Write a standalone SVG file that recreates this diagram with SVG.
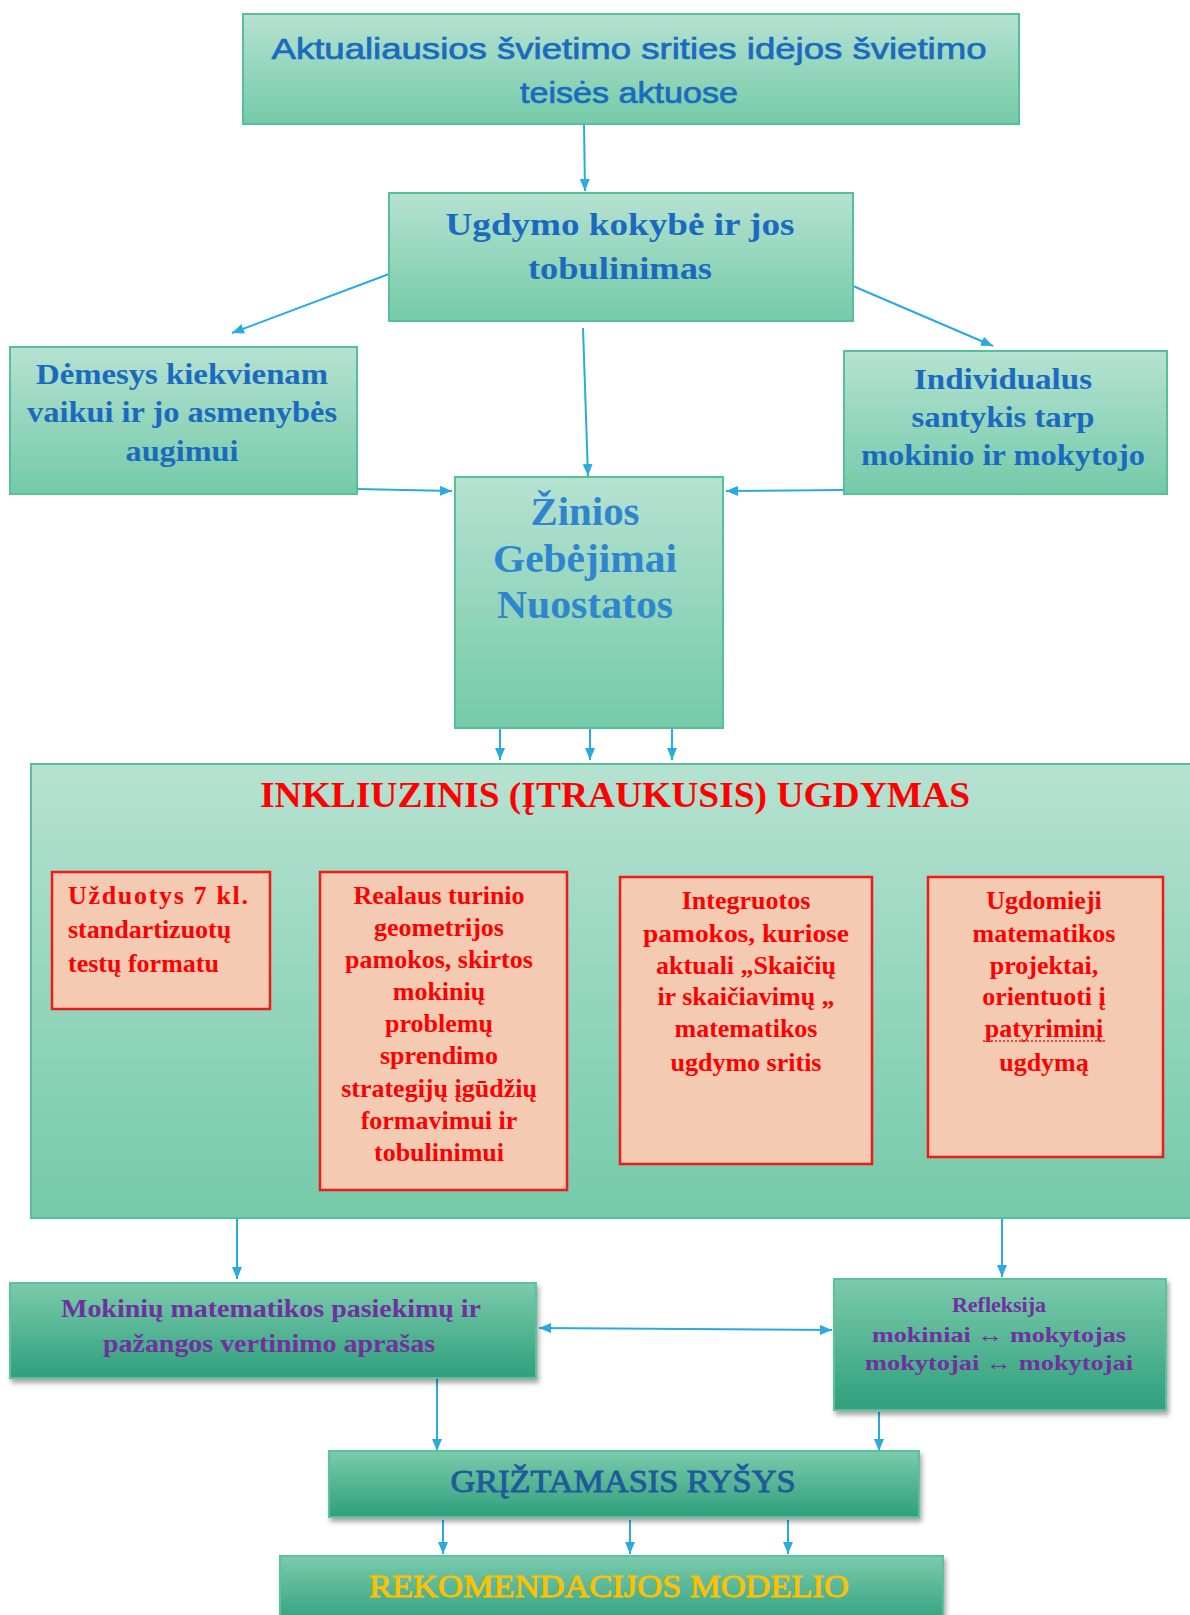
<svg xmlns="http://www.w3.org/2000/svg" width="1190" height="1615" viewBox="0 0 1190 1615">
  <defs>
    <linearGradient id="gLight" x1="0" y1="0" x2="0" y2="1">
      <stop offset="0" stop-color="#B6E2D1"/>
      <stop offset="1" stop-color="#74CAA9"/>
    </linearGradient>
    <linearGradient id="gDark" x1="0" y1="0" x2="0" y2="1">
      <stop offset="0" stop-color="#7BCBAC"/>
      <stop offset="1" stop-color="#2F9F7C"/>
    </linearGradient>
    <filter id="shadow" x="-5%" y="-10%" width="112%" height="130%">
      <feDropShadow dx="2" dy="4" stdDeviation="2.5" flood-color="#000" flood-opacity="0.35"/>
    </filter>
    <marker id="ah" viewBox="0 0 12 10" refX="12" refY="5" markerWidth="12" markerHeight="10" markerUnits="userSpaceOnUse" orient="auto-start-reverse">
      <path d="M0,0 L12,5 L0,10 z" fill="#29ABE2"/>
    </marker>
    <style>
      .light { fill: url(#gLight); stroke: #55C199; stroke-width: 2; }
      .dark { fill: url(#gDark); stroke: #5CC29E; stroke-width: 2; filter: url(#shadow); }
      .red { fill: #F4CBB2; stroke: #F01A1A; stroke-width: 2.5; }
      .conn { stroke: #29ABE2; stroke-width: 2; fill: none; marker-end: url(#ah); }
      .sans { font-family: "Liberation Sans", Arial, sans-serif; stroke: #1A6BC0; stroke-width: 0.7; }
      .serif { font-family: "Liberation Serif", "Times New Roman", serif; font-weight: bold; }
      .serifn { font-family: "Liberation Serif", "Times New Roman", serif; stroke-width: 0.9; }
      .blue { fill: #1A6BC0; }
      .blue2 { fill: #2D86CE; }
      .redt { fill: #FF0000; }
      .purple { fill: #7030A0; }
      .mid { text-anchor: middle; }
    </style>
  </defs>

  <rect width="1190" height="1615" fill="#FFFFFF"/>

  <!-- connectors -->
  <g id="connectors">
    <path class="conn" d="M584,124 L585,191"/>
    <path class="conn" d="M389,274 L232,333"/>
    <path class="conn" d="M853,286 L993,346"/>
    <path class="conn" d="M583,328 L588,476"/>
    <path class="conn" d="M357,489 L452,491"/>
    <path class="conn" d="M844,490 L726,491"/>
    <path class="conn" d="M500,729 L500,760"/>
    <path class="conn" d="M590,729 L590,760"/>
    <path class="conn" d="M672,729 L672,760"/>
    <path class="conn" d="M237,1218 L237,1279"/>
    <path class="conn" d="M1002,1218 L1002,1277"/>
    <path class="conn" d="M539,1328 L832,1330" marker-start="url(#ah)"/>
    <path class="conn" d="M437,1378 L437,1451"/>
    <path class="conn" d="M879,1412 L879,1451"/>
    <path class="conn" d="M443,1520 L443,1554"/>
    <path class="conn" d="M630,1520 L630,1554"/>
    <path class="conn" d="M788,1520 L788,1554"/>
  </g>

  <g id="node-aktualiausios">
    <rect class="light" x="243" y="14" width="776" height="110"/>
    <text class="sans blue mid" x="629" y="59" font-size="30" textLength="715" lengthAdjust="spacingAndGlyphs">Aktualiausios švietimo srities idėjos švietimo</text>
    <text class="sans blue mid" x="629" y="103" font-size="30" textLength="218" lengthAdjust="spacingAndGlyphs">teisės aktuose</text>
  </g>

  <g id="node-ugdymo-kokybe">
    <rect class="light" x="389" y="193" width="464" height="128"/>
    <text class="serif blue mid" x="620" y="235" font-size="31" textLength="349" lengthAdjust="spacingAndGlyphs">Ugdymo kokybė ir jos</text>
    <text class="serif blue mid" x="620" y="279" font-size="31" textLength="184" lengthAdjust="spacingAndGlyphs">tobulinimas</text>
  </g>

  <g id="node-demesys">
    <rect class="light" x="10" y="347" width="347" height="147"/>
    <text class="serif blue mid" x="182" y="384" font-size="30" textLength="292" lengthAdjust="spacingAndGlyphs">Dėmesys  kiekvienam</text>
    <text class="serif blue mid" x="182" y="422" font-size="30" textLength="310" lengthAdjust="spacingAndGlyphs">vaikui ir jo asmenybės</text>
    <text class="serif blue mid" x="182" y="461" font-size="30" textLength="113" lengthAdjust="spacingAndGlyphs">augimui</text>
  </g>

  <g id="node-individualus">
    <rect class="light" x="844" y="351" width="323" height="143"/>
    <text class="serif blue mid" x="1003" y="389" font-size="30" textLength="178" lengthAdjust="spacingAndGlyphs">Individualus</text>
    <text class="serif blue mid" x="1003" y="427" font-size="30" textLength="183" lengthAdjust="spacingAndGlyphs">santykis tarp</text>
    <text class="serif blue mid" x="1003" y="465" font-size="30" textLength="284" lengthAdjust="spacingAndGlyphs">mokinio ir mokytojo</text>
  </g>

  <g id="node-zinios">
    <rect class="light" x="455" y="477" width="268" height="251"/>
    <text class="serif blue2 mid" x="585" y="525" font-size="41" textLength="109" lengthAdjust="spacingAndGlyphs">Žinios</text>
    <text class="serif blue2 mid" x="585" y="572" font-size="41" textLength="184" lengthAdjust="spacingAndGlyphs">Gebėjimai</text>
    <text class="serif blue2 mid" x="585" y="618" font-size="41" textLength="176" lengthAdjust="spacingAndGlyphs">Nuostatos</text>
  </g>

  <g id="node-inkliuzinis">
    <rect class="light" x="31" y="764" width="1170" height="454"/>
    <text class="serif redt mid" x="615" y="807" font-size="36" textLength="710" lengthAdjust="spacingAndGlyphs">INKLIUZINIS (ĮTRAUKUSIS) UGDYMAS</text>
  </g>

  <g id="node-uzduotys">
    <rect class="red" x="52" y="872" width="218" height="137"/>
    <text class="serif redt" x="68" y="904" font-size="26" textLength="180" lengthAdjust="spacing">Užduotys  7 kl.</text>
    <text class="serif redt" x="68" y="938" font-size="26">standartizuotų</text>
    <text class="serif redt" x="68" y="972" font-size="26">testų formatu</text>
  </g>

  <g id="node-realaus">
    <rect class="red" x="320" y="872" width="247" height="318"/>
    <g class="serif redt mid" font-size="26">
      <text x="439" y="904">Realaus turinio</text>
      <text x="439" y="936">geometrijos</text>
      <text x="439" y="968">pamokos, skirtos</text>
      <text x="439" y="1000">mokinių</text>
      <text x="439" y="1032">problemų</text>
      <text x="439" y="1064">sprendimo</text>
      <text x="439" y="1097">strategijų įgūdžių</text>
      <text x="439" y="1129">formavimui ir</text>
      <text x="439" y="1161">tobulinimui</text>
    </g>
  </g>

  <g id="node-integruotos">
    <rect class="red" x="620" y="877" width="252" height="287"/>
    <g class="serif redt mid" font-size="26">
      <text x="746" y="909">Integruotos</text>
      <text x="746" y="942" textLength="206" lengthAdjust="spacingAndGlyphs">pamokos, kuriose</text>
      <text x="746" y="974">aktuali „Skaičių</text>
      <text x="746" y="1005">ir skaičiavimų „</text>
      <text x="746" y="1037">matematikos</text>
      <text x="746" y="1071">ugdymo sritis</text>
    </g>
  </g>

  <g id="node-ugdomieji">
    <rect class="red" x="928" y="877" width="235" height="280"/>
    <g class="serif redt mid" font-size="26">
      <text x="1044" y="909">Ugdomieji</text>
      <text x="1044" y="942">matematikos</text>
      <text x="1044" y="974">projektai,</text>
      <text x="1044" y="1005">orientuoti į</text>
      <text x="1044" y="1037">patyriminį</text>
      <text x="1044" y="1071">ugdymą</text>
    </g>
    <path d="M983,1041 L1105,1041" stroke="#E02020" stroke-width="1.5" stroke-dasharray="2 2" fill="none"/>
  </g>

  <g id="node-mokiniu">
    <rect class="dark" x="10" y="1283" width="526" height="95"/>
    <text class="serif purple mid" x="271" y="1317" font-size="26" textLength="420" lengthAdjust="spacingAndGlyphs">Mokinių matematikos pasiekimų ir</text>
    <text class="serif purple mid" x="269" y="1352" font-size="26" textLength="332" lengthAdjust="spacingAndGlyphs">pažangos vertinimo  aprašas</text>
  </g>

  <g id="node-refleksija">
    <rect class="dark" x="834" y="1279" width="332" height="131"/>
    <text class="serif purple mid" x="999" y="1312" font-size="22">Refleksija</text>
    <text class="serif purple mid" x="999" y="1342" font-size="22" textLength="254" lengthAdjust="spacingAndGlyphs">mokiniai ↔ mokytojas</text>
    <text class="serif purple mid" x="999" y="1370" font-size="22" textLength="268" lengthAdjust="spacingAndGlyphs">mokytojai ↔ mokytojai</text>
  </g>

  <g id="node-griztamasis">
    <rect class="dark" x="329" y="1451" width="590" height="66"/>
    <text class="serifn mid" fill="#1F5B9A" stroke="#1F5B9A" x="623" y="1492" font-size="32" textLength="345" lengthAdjust="spacingAndGlyphs">GRĮŽTAMASIS RYŠYS</text>
  </g>

  <g id="node-rekomendacijos">
    <rect class="dark" x="280" y="1556" width="663" height="70"/>
    <text class="serifn mid" fill="#FFC000" stroke="#FFC000" x="609" y="1597" font-size="32" textLength="480" lengthAdjust="spacingAndGlyphs">REKOMENDACIJOS MODELIO</text>
  </g>
</svg>
